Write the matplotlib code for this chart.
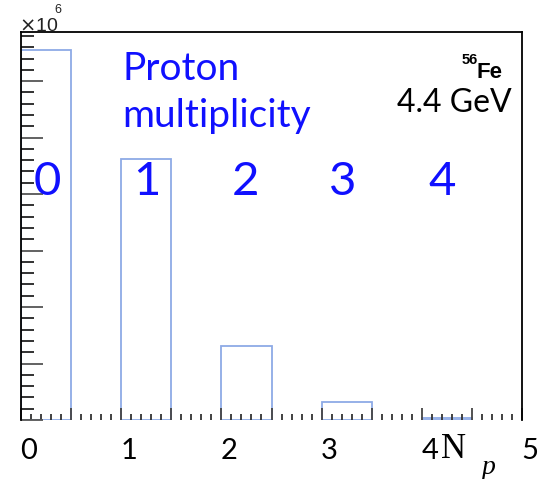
import matplotlib
matplotlib.use("Agg")
import matplotlib.pyplot as plt
import matplotlib.transforms as mtransforms
from matplotlib.ticker import MultipleLocator

# Proton multiplicity distribution (counts in units of 1e6)
n_protons = [0, 1, 2, 3, 4]
counts_e6 = [6.55, 4.62, 1.31, 0.32, 0.03]
bin_width = 0.5
x_tick_labels = ["0", "", "1", "", "2", "", "3", "", "4", "", "5"]

fig = plt.figure(figsize=(5.39, 4.79), dpi=100)
ax = fig.add_axes([21 / 539, 59 / 479, 501 / 539, 388 / 479])

edge = "#8eaae6"
ax.bar(n_protons, counts_e6, width=bin_width, align="edge",
       facecolor="none", edgecolor=edge, linewidth=1.3)

ax.set_xlim(0, 5)
ax.set_ylim(0, 6.87)

# frame
for s in ["left", "top", "right"]:
    ax.spines[s].set_color("black")
    ax.spines[s].set_linewidth(1.3)
ax.spines["bottom"].set_visible(False)

# x ticks
ax.xaxis.set_minor_locator(MultipleLocator(0.1))
ax.tick_params(axis="x", which="major", direction="in", length=9, width=1.3,
               color="#444444", top=False, labelsize=21, pad=13)
ax.tick_params(axis="x", which="minor", direction="in", length=4, width=1.3,
               color="#333333", top=False)
ax.set_xticks([i * bin_width for i in range(len(x_tick_labels))])
ax.set_xticklabels(x_tick_labels, fontfamily="Lato")
shift = mtransforms.ScaledTranslation(8 / 100, 0, fig.dpi_scale_trans)
for lab in ax.get_xticklabels():
    lab.set_transform(lab.get_transform() + shift)

# y ticks (labels off)
ax.yaxis.set_major_locator(MultipleLocator(1))
ax.yaxis.set_minor_locator(MultipleLocator(0.2))
ax.tick_params(axis="y", which="major", direction="in", length=16, width=1.3,
               color="#555555", right=False, labelleft=False)
ax.tick_params(axis="y", which="minor", direction="in", length=9, width=1.3,
               color="#222222", right=False)

# exponent marker
fig.text(19 / 539, 1 - 31 / 479, r"$\times$10", fontsize=14,
         fontfamily="Liberation Sans", color="#222222", va="baseline")
fig.text(54 / 539, 1 - 13 / 479, "6", fontsize=9,
         fontfamily="Liberation Sans", color="#222222", va="baseline")

# axis title
fig.text(441 / 539, 1 - 458 / 479, "N", fontsize=25,
         fontfamily="Liberation Serif", va="baseline")
fig.text(482 / 539, 1 - 474 / 479, "p", fontsize=20, style="italic",
         fontfamily="Liberation Serif", va="baseline")

blue = "#1010ff"
fig.text(122 / 539, 1 - 80 / 479, "Proton", fontsize=28, fontfamily="Lato",
         color=blue, va="baseline")
fig.text(122 / 539, 1 - 127 / 479, "multiplicity", fontsize=28,
         fontfamily="Lato", color=blue, va="baseline")

for n, xc in zip(n_protons, [47, 147, 245, 343, 442]):
    fig.text(xc / 539, 1 - 195 / 479, str(n), fontsize=34, fontfamily="Lato",
             color=blue, ha="center", va="baseline")

# beam label
fig.text(477 / 539, 1 - 78 / 479, "Fe", fontsize=16, fontweight="bold",
         fontfamily="Liberation Sans", va="baseline")
fig.text(478 / 539, 1 - 64 / 479, "56", fontsize=10.5, fontweight="bold",
         fontfamily="Liberation Sans", va="baseline", ha="right")
fig.text(512 / 539, 1 - 112 / 479, "4.4 GeV", fontsize=23, fontfamily="Lato",
         va="baseline", ha="right")

fig.savefig("out.png", dpi=100)
